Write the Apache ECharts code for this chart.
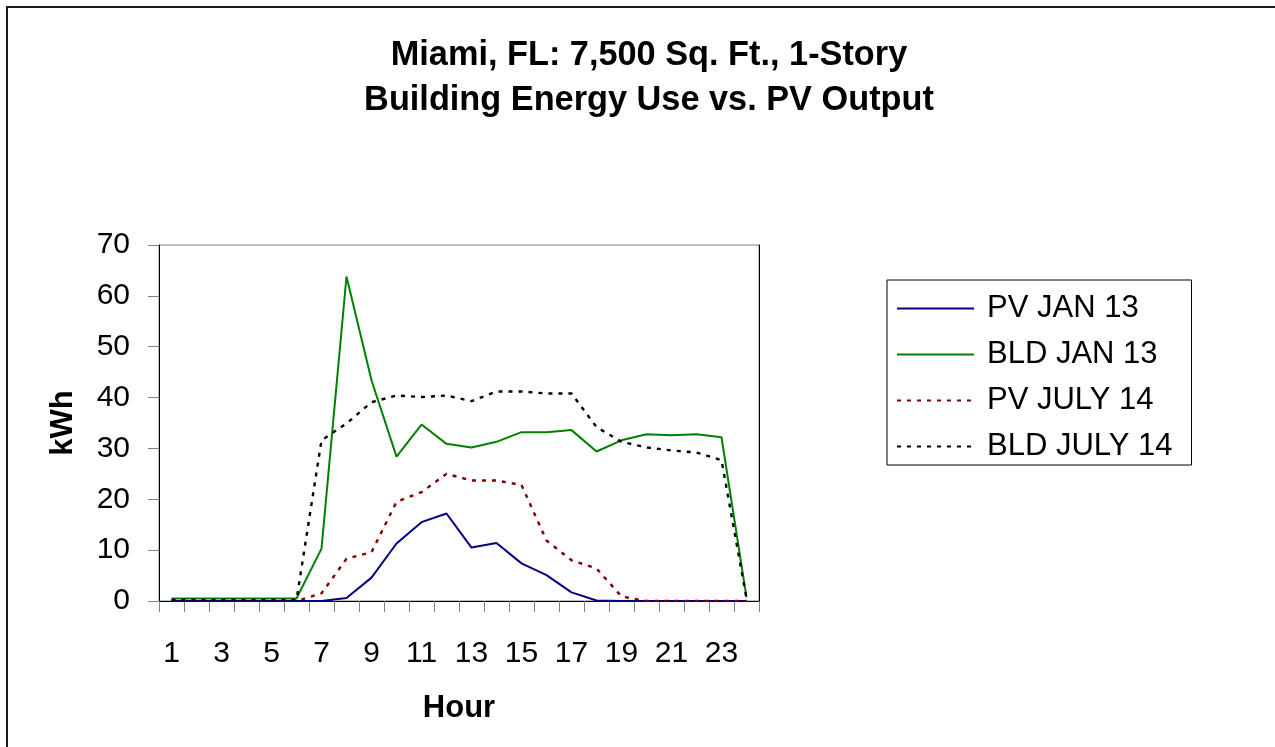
<!DOCTYPE html>
<html>
<head>
<meta charset="utf-8">
<script src="https://cdn.jsdelivr.net/npm/echarts@6/dist/echarts.min.js"></script>
<style>
  html, body { margin: 0; padding: 0; background: #ffffff; }
  #chart { width: 1275px; height: 747px; }
</style>
</head>
<body>
<div id="chart"></div>
<script>
// Hourly energy (kWh) for a 7,500 sq. ft. one-story building in Miami, FL
const hours = ['1','2','3','4','5','6','7','8','9','10','11','12','13','14','15','16','17','18','19','20','21','22','23','24'];

const pvJan13  = [0, 0, 0, 0, 0, 0, 0, 0.6, 4.6, 11.3, 15.5, 17.2, 10.5, 11.4, 7.4, 5.1, 1.7, 0.1, 0, 0, 0, 0, 0, 0];
const bldJan13 = [0.5, 0.5, 0.5, 0.5, 0.5, 0.5, 10.3, 63.8, 43.4, 28.4, 34.7, 30.9, 30.2, 31.3, 33.2, 33.2, 33.6, 29.4, 31.6, 32.8, 32.6, 32.8, 32.2, 0.7];
const pvJul14  = [0, 0, 0, 0, 0, 0, 1.5, 8.3, 9.6, 19.5, 21.4, 25.0, 23.7, 23.7, 22.8, 11.9, 8.0, 6.4, 0.9, 0, 0, 0, 0, 0];
const bldJul14 = [0.2, 0.2, 0.2, 0.2, 0.2, 0.2, 31.6, 34.9, 39.1, 40.4, 40.1, 40.4, 39.3, 41.2, 41.2, 40.8, 40.8, 34.2, 31.3, 30.2, 29.6, 29.2, 27.7, 0.5];

const seriesNames = ['PV JAN 13', 'BLD JAN 13', 'PV JULY 14', 'BLD JULY 14'];

const FONT = '"Liberation Sans", Arial, Helvetica, sans-serif';

const chart = echarts.init(document.getElementById('chart'), null, { renderer: 'canvas' });

function lineSeries(name, data, color, dashed) {
  return {
    name: name,
    type: 'line',
    data: data,
    symbol: 'none',
    smooth: false,
    yAxisIndex: 0,
    lineStyle: { color: color, width: dashed ? 2.4 : 2, type: dashed ? [4, 6] : 'solid' },
    itemStyle: { color: color },
    emphasis: { disabled: true },
    animation: false
  };
}

chart.setOption({
  backgroundColor: '#ffffff',
  animation: false,
  textStyle: { fontFamily: FONT },
  graphic: [{
    type: 'rect',
    shape: { x: 7, y: 7, width: 1300, height: 800 },
    style: { fill: 'none', stroke: '#1a1a1a', lineWidth: 2 },
    silent: true,
    z: 0
  }],
  title: {
    text: 'Miami, FL: 7,500 Sq. Ft., 1-Story\nBuilding Energy Use vs. PV Output',
    left: 644,
    top: 28,
    textAlign: 'center',
    textStyle: {
      fontFamily: FONT,
      fontSize: 34.3,
      fontWeight: 'bold',
      lineHeight: 45,
      color: '#000000'
    }
  },
  legend: {
    orient: 'vertical',
    left: 887,
    top: 280,
    padding: [13, 19, 3, 9],
    itemGap: 15,
    itemWidth: 77,
    itemHeight: 2,
    borderColor: '#000000',
    borderWidth: 1,
    data: seriesNames,
    itemStyle: { opacity: 0 },
    textStyle: {
      fontFamily: FONT,
      fontSize: 31,
      lineHeight: 31,
      color: '#000000',
      padding: [0, 0, 0, 8]
    }
  },
  grid: {
    left: 159,
    top: 245,
    right: 516,
    bottom: 146,
    show: true,
    borderColor: '#808080',
    borderWidth: 1,
    backgroundColor: '#ffffff',
    containLabel: false
  },
  xAxis: {
    type: 'category',
    data: hours,
    boundaryGap: true,
    name: 'Hour',
    nameLocation: 'middle',
    nameGap: 92,
    nameTextStyle: { fontFamily: FONT, fontSize: 31, fontWeight: 'bold', color: '#000000' },
    axisLine: { show: true, lineStyle: { color: '#000000', width: 1 } },
    axisTick: { show: true, interval: 0, alignWithLabel: false, inside: false, length: 11, lineStyle: { color: '#808080', width: 1 } },
    axisLabel: { interval: 1, margin: 38, fontFamily: FONT, fontSize: 30, color: '#000000' },
    splitLine: { show: false }
  },
  yAxis: [{
    type: 'value',
    min: 0,
    max: 70,
    interval: 10,
    name: 'kWh',
    nameLocation: 'middle',
    nameRotate: 90,
    nameGap: 80,
    nameTextStyle: { fontFamily: FONT, fontSize: 31, fontWeight: 'bold', color: '#000000' },
    axisLine: { show: true, lineStyle: { color: '#000000', width: 1 } },
    axisTick: { show: true, inside: false, length: 11, lineStyle: { color: '#808080', width: 1 } },
    axisLabel: { margin: 29, fontFamily: FONT, fontSize: 30, color: '#000000' },
    splitLine: { show: false }
  }, {
    type: 'value',
    position: 'right',
    min: 0,
    max: 70,
    interval: 10,
    axisLine: { show: true, lineStyle: { color: '#000000', width: 1 } },
    axisTick: { show: false },
    axisLabel: { show: false },
    splitLine: { show: false }
  }],
  series: [
    lineSeries(seriesNames[0], pvJan13, '#000080', false),
    lineSeries(seriesNames[1], bldJan13, '#008000', false),
    lineSeries(seriesNames[2], pvJul14, '#800000', true),
    lineSeries(seriesNames[3], bldJul14, '#000000', true)
  ]
});
</script>
</body>
</html>
